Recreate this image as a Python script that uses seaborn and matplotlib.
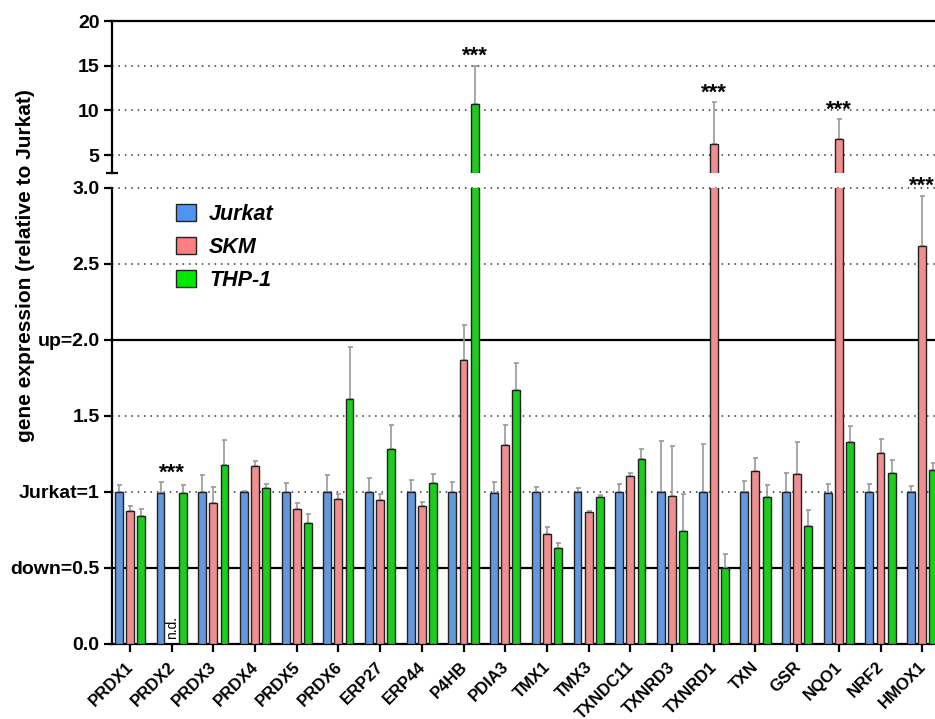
import numpy as np
import pandas as pd
import matplotlib
matplotlib.use("Agg")
import matplotlib.pyplot as plt
import seaborn as sns
from matplotlib.patches import Patch

# ---- data -------------------------------------------------------------
genes = ["PRDX1", "PRDX2", "PRDX3", "PRDX4", "PRDX5", "PRDX6", "ERP27", "ERP44",
         "P4HB", "PDIA3", "TMX1", "TMX3", "TXNDC11", "TXNRD3", "TXNRD1", "TXN",
         "GSR", "NQO1", "NRF2", "HMOX1"]
lines = ["Jurkat", "SKM", "THP-1"]

jurkat = [1.00, 0.996, 1.00, 1.00, 1.00, 1.00, 1.00, 1.00, 1.00, 0.996,
          1.00, 1.00, 1.00, 1.00, 1.00, 1.00, 1.00, 0.996, 1.00, 1.00]
jurkat_err = [0.048, 0.068, 0.114, 0.007, 0.062, 0.114, 0.092, 0.081, 0.064, 0.070,
              0.033, 0.026, 0.055, 0.336, 0.314, 0.073, 0.127, 0.059, 0.055, 0.037]
skm = [0.873, 0.0, 0.927, 1.169, 0.886, 0.954, 0.945, 0.905, 1.868, 1.307,
       0.725, 0.868, 1.103, 0.974, 6.23, 1.136, 1.121, 6.79, 1.257, 2.62]
skm_err = [0.032, np.nan, 0.106, 0.033, 0.044, 0.035, 0.040, 0.029, 0.230, 0.137,
           0.044, 0.007, 0.024, 0.327, 4.72, 0.088, 0.209, 2.23, 0.092, 0.33]
thp1 = [0.844, 0.996, 1.175, 1.026, 0.798, 1.61, 1.281, 1.062, 10.75, 1.67,
        0.631, 0.967, 1.215, 0.741, 0.50, 0.967, 0.778, 1.329, 1.127, 1.142]
thp1_err = [0.042, 0.052, 0.165, 0.029, 0.055, 0.345, 0.163, 0.054, 4.25, 0.176,
            0.033, 0.011, 0.066, 0.248, 0.095, 0.077, 0.101, 0.105, 0.082, 0.05]

not_detected = [("PRDX2", "SKM")]
significant = [("PRDX2", "SKM"), ("P4HB", "THP-1"), ("TXNRD1", "SKM"),
               ("NQO1", "SKM"), ("HMOX1", "SKM")]

bottom_ticks = [0.0, 0.5, 1.0, 1.5, 2.0, 2.5, 3.0]
bottom_labels = ["0.0", "down=0.5", "Jurkat=1", "1.5", "up=2.0", "2.5", "3.0"]
top_ticks = [5, 10, 15, 20]
top_labels = ["5", "10", "15", "20"]

palette = {"Jurkat": "#4f95f0", "SKM": "#ff7f7f", "THP-1": "#00ea00"}

df = pd.DataFrame({
    "gene": genes * 3,
    "line": [l for l in lines for _ in genes],
    "value": jurkat + skm + thp1,
})
errors = {"Jurkat": jurkat_err, "SKM": skm_err, "THP-1": thp1_err}

# ---- style ------------------------------------------------------------
sns.set_style("ticks")
plt.rcParams["font.family"] = ["Liberation Sans", "DejaVu Sans"]
plt.rcParams["font.weight"] = "bold"
plt.rcParams["axes.linewidth"] = 1.6
for key in ["text.color", "axes.labelcolor", "xtick.color", "ytick.color",
            "axes.edgecolor"]:
    plt.rcParams[key] = "black"

W, H = 935, 719
fig = plt.figure(figsize=(W / 100, H / 100), dpi=100)

left = 112 / W
width = 829 / W
ax_bot = fig.add_axes([left, 1 - 644 / H, width, (644 - 188) / H])
ax_top = fig.add_axes([left, 1 - 173 / H, width, (173 - 21) / H])

xlim = (-0.43, len(genes) - 1 + 0.45)
dot = (0, (1, 3.2))


def draw_bars(ax, ymin):
    sns.barplot(data=df, x="gene", y="value", hue="line", hue_order=lines,
                order=genes, palette=palette, width=0.8, gap=0.29,
                edgecolor="#222222", linewidth=1.0, errorbar=None,
                legend=False, ax=ax, zorder=3)
    centers = {}
    for line, cont in zip(lines, ax.containers):
        for gene, bar, e in zip(genes, cont, errors[line]):
            x = bar.get_x() + bar.get_width() / 2
            h = bar.get_height()
            centers[(gene, line)] = (x, h, e)
            if np.isnan(e) or h == 0 or h + e < ymin:
                continue
            ax.errorbar(x, h, yerr=[[0], [e]], fmt="none", ecolor="#9a9a9a",
                        elinewidth=1.2, capsize=1.8, capthick=1.2, zorder=2)
    ax.set_xlim(*xlim)
    ax.set_xlabel("")
    ax.set_ylabel("")
    return centers


centers = draw_bars(ax_bot, 0)
draw_bars(ax_top, 3)

# bottom panel: 0 - 3
ax_bot.set_ylim(0, 3.0)
ax_bot.set_yticks(bottom_ticks)
ax_bot.set_yticklabels(bottom_labels)
for v in [1.0, 1.5, 2.5, 3.0]:
    ax_bot.axhline(v, color="#333333", lw=1.1, ls=dot, zorder=1, clip_on=False)
for v in [0.5, 2.0]:
    ax_bot.axhline(v, color="black", lw=1.6, zorder=1)
sns.despine(ax=ax_bot, top=True, right=True)
ax_bot.tick_params(axis="y", labelsize=14, width=1.6, length=6, pad=3)
ax_bot.tick_params(axis="x", labelsize=12, width=1.6, length=6, pad=8)
for lab in ax_bot.get_xticklabels():
    lab.set_rotation(45)
    lab.set_ha("right")
    lab.set_va("center_baseline")
    lab.set_rotation_mode("anchor")

# top panel: 3 - 20
ax_top.set_ylim(3, 20)
ax_top.set_yticks(top_ticks)
ax_top.set_yticklabels(top_labels)
ax_top.set_yticks([3], minor=True)
ax_top.tick_params(axis="y", which="minor", direction="inout", length=9, width=1.6)
for v in [5, 10, 15]:
    ax_top.axhline(v, color="#333333", lw=1.1, ls=dot, zorder=1)
ax_top.spines["right"].set_visible(False)
ax_top.spines["bottom"].set_visible(False)
ax_top.spines["top"].set_visible(True)
ax_top.set_xticks([])
ax_top.tick_params(axis="y", labelsize=14, width=1.6, length=6, pad=3)

# not detected
for gene, line in not_detected:
    x, _, _ = centers[(gene, line)]
    ax_bot.text(x, 0.03, "n.d.", rotation=90, ha="center", va="bottom",
                fontsize=10, fontweight="normal", zorder=4)

# significance stars
for gene, line in significant:
    x, h, e = centers[(gene, line)]
    group_top = max(centers[(gene, l)][1] + np.nan_to_num(centers[(gene, l)][2])
                    for l in lines)
    y = max(h + np.nan_to_num(e), group_top)
    ax = ax_top if y > 3 else ax_bot
    ax.annotate("***", (x, y), xytext=(0, -1), textcoords="offset points",
                ha="center", va="bottom", fontsize=16, annotation_clip=False,
                zorder=5)

# legend
handles = [Patch(facecolor=palette[l], edgecolor="#222222", linewidth=1.0) for l in lines]
ax_bot.legend(handles, lines, loc="upper left", bbox_to_anchor=(0.077, 0.966),
              frameon=False, prop=dict(weight="bold", style="italic", size=15.5),
              handlelength=0.95, handleheight=0.85, handletextpad=0.6,
              labelspacing=0.56, borderaxespad=0, borderpad=0)

fig.text(26 / W, 1 - 266 / H, "gene expression (relative to Jurkat)",
         rotation=90, ha="center", va="center", fontsize=15, fontweight="bold")

fig.savefig("out.png", dpi=100)
